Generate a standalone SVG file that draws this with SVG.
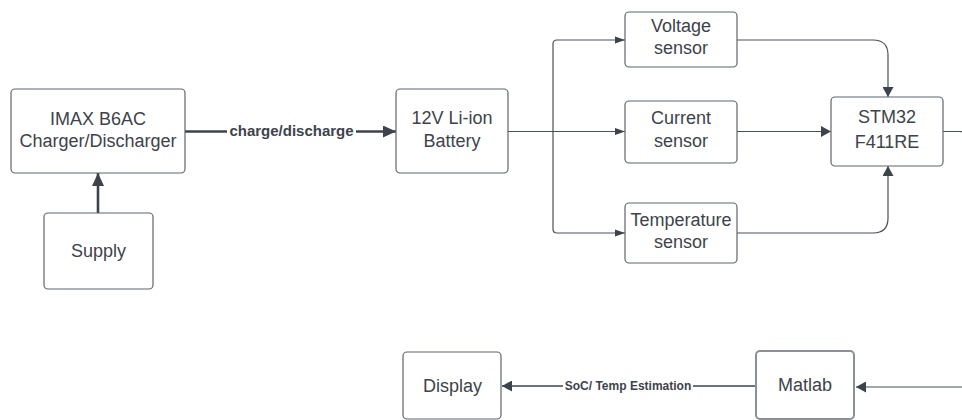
<svg xmlns="http://www.w3.org/2000/svg" width="962" height="420" viewBox="0 0 962 420">
<style>
.box{fill:#ffffff;stroke:#5f666e;stroke-width:1.2}
.box2{fill:#ffffff;stroke:#8a9098;stroke-width:2}
.t{font-family:"Liberation Sans",Arial,sans-serif;font-size:18px;fill:#3d434b;text-anchor:middle}
.lbl{font-family:"Liberation Sans",Arial,sans-serif;font-weight:bold;fill:#3d434b;text-anchor:middle}
.thin{fill:none;stroke:#4a5058;stroke-width:1.2}
.med{fill:none;stroke:#3d434b;stroke-width:1.5}
.thick{fill:none;stroke:#3d434b;stroke-width:2.6}
</style>
<defs>
<marker id="aBig" markerUnits="userSpaceOnUse" markerWidth="13" markerHeight="12" viewBox="0 0 13 12" refX="13" refY="6" orient="auto"><path d="M0 0L13 6L0 12z" fill="#3d434b"/></marker>
<marker id="aMed" markerUnits="userSpaceOnUse" markerWidth="10" markerHeight="11" viewBox="0 0 10 11" refX="10" refY="5.5" orient="auto"><path d="M0 0L10 5.5L0 11z" fill="#3d434b"/></marker>
<marker id="aSm" markerUnits="userSpaceOnUse" markerWidth="10" markerHeight="8" viewBox="0 0 10 8" refX="10" refY="4" orient="auto"><path d="M0 0.5L10 4L0 7.5z" fill="#3d434b"/></marker>
</defs>
<rect width="962" height="420" fill="#ffffff"/>
<g id="connectors">
<path class="thick" d="M185 131.5H396" marker-end="url(#aBig)"/>
<rect x="227" y="122" width="129" height="18" fill="#ffffff"/>
<text class="lbl" x="291.5" y="135.5" font-size="15">charge/discharge</text>
<path class="thick" d="M98 213V173" marker-end="url(#aBig)"/>
<path class="thin" d="M508 131.5H625" marker-end="url(#aSm)"/>
<path class="thin" d="M553 131.5V44Q553 40 557 40H625" marker-end="url(#aSm)"/>
<path class="thin" d="M553 131.5V229Q553 233 557 233H625" marker-end="url(#aSm)"/>
<path class="thin" d="M737 40H873Q888 40 888 55V97" marker-end="url(#aMed)"/>
<path class="thin" d="M737 131.5H831" marker-end="url(#aMed)"/>
<path class="thin" d="M737 233H873Q888 233 888 218V166" marker-end="url(#aMed)"/>
<path class="thin" d="M943 131.5H959Q974 131.5 974 146.5V372Q974 387 959 387H856" marker-end="url(#aMed)"/>
<path class="med" d="M756 386H502" marker-end="url(#aMed)"/>
<rect x="563" y="377" width="130" height="16" fill="#ffffff"/>
<text class="lbl" x="628" y="389.5" font-size="12">SoC/ Temp Estimation</text>
</g>
<g id="imax">
<rect class="box" x="11" y="89" width="174" height="84" rx="4"/>
<text class="t" x="98" y="124.5">IMAX B6AC</text>
<text class="t" x="98" y="147">Charger/Discharger</text>
</g>
<g id="supply">
<rect class="box" x="44" y="213" width="109" height="76" rx="4"/>
<text class="t" x="98.5" y="257">Supply</text>
</g>
<g id="battery">
<rect class="box" x="396" y="89" width="112" height="84" rx="4"/>
<text class="t" x="452" y="123.5">12V Li-ion</text>
<text class="t" x="452" y="147">Battery</text>
</g>
<g id="voltage">
<rect class="box" x="625" y="12" width="112" height="55" rx="4"/>
<text class="t" x="681" y="32">Voltage</text>
<text class="t" x="681" y="54">sensor</text>
</g>
<g id="current">
<rect class="box" x="625" y="101" width="112" height="62" rx="4"/>
<text class="t" x="681" y="124">Current</text>
<text class="t" x="681" y="147">sensor</text>
</g>
<g id="temperature">
<rect class="box" x="625" y="203" width="112" height="60" rx="4"/>
<text class="t" x="681" y="226">Temperature</text>
<text class="t" x="681" y="247.5">sensor</text>
</g>
<g id="stm32">
<rect class="box" x="831" y="97" width="112" height="69" rx="4"/>
<text class="t" x="887" y="122.5">STM32</text>
<text class="t" x="887" y="147.5">F411RE</text>
</g>
<g id="display">
<rect class="box" x="403" y="352" width="98" height="67" rx="4"/>
<text class="t" x="452.5" y="391.5">Display</text>
</g>
<g id="matlab">
<rect class="box2" x="756" y="351" width="98" height="68" rx="4"/>
<text class="t" x="805" y="390.5">Matlab</text>
</g>
</svg>
